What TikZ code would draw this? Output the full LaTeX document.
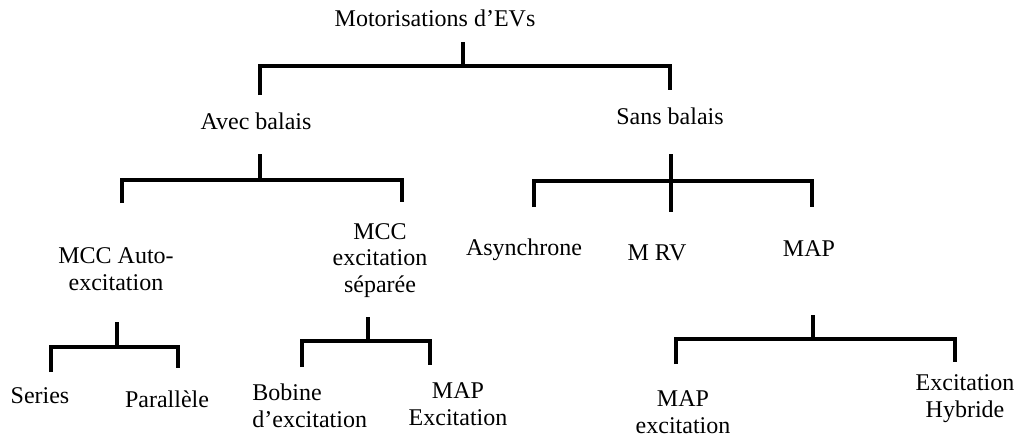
\documentclass[tikz,border=0pt]{standalone}
\usepackage{fontspec}
\setmainfont{Liberation Serif}
\usepackage{tikz}

\tikzset{
    lbl/.style={font=\fontsize{12}{13.2}\selectfont, inner sep=0pt, align=center, anchor=base},
    bar/.style={line width=1.7pt, black}
}

\begin{document}
\begin{tikzpicture}[x=0.5pt, y=-0.5pt]
    \useasboundingbox (0,0) rectangle (1018,439);
    % texts
    \node[lbl] (mot) at (435,26) {Motorisations d'EVs};
    \node[lbl] (avec) at (256,129) {Avec balais};
    \node[lbl] (sans) at (670,124) {Sans balais};
    \node[lbl] (auto) at (116,290) {MCC Auto-\\excitation};
    \node[lbl] (sep) at (380,292) {MCC\\excitation\\séparée};
    \node[lbl] (asyn) at (524,255) {Asynchrone};
    \node[lbl] (mrv) at (657,260) {M RV};
    \node[lbl] (map) at (809,256) {MAP};
    \node[lbl] (ser) at (40,403) {Series};
    \node[lbl] (par) at (167,407) {Parallèle};
    \node[lbl, anchor=base west, align=left] (bob) at (252,427) {Bobine\\d'excitation};
    \node[lbl] (mapex) at (458,425) {MAP\\Excitation};
    \node[lbl] (mapex2) at (683,433) {MAP\\excitation};
    \node[lbl] (hyb) at (965,417) {Excitation\\Hybride};
    % branches
    \coordinate (m0) at (463,42); \coordinate (m1) at (463,66);
    \coordinate (m2) at (260,95); \coordinate (m3) at (670,90);
    \draw[bar] (m0) -- (m1); \draw[bar] (m2) |- (m1) -| (m3);
    \coordinate (a0) at (260,154); \coordinate (a1) at (260,180);
    \coordinate (a2) at (122,203); \coordinate (a3) at (402,202);
    \draw[bar] (a0) -- (a1); \draw[bar] (a2) |- (a1) -| (a3);
    \coordinate (s0) at (671,154); \coordinate (s1) at (671,181);
    \coordinate (s2) at (534,207); \coordinate (s3) at (671,212); \coordinate (s4) at (812,207);
    \draw[bar] (s0) -- (s3); \draw[bar] (s2) |- (s1) -| (s4);
    \coordinate (c0) at (117,322); \coordinate (c1) at (117,347);
    \coordinate (c2) at (51,372); \coordinate (c3) at (178,368);
    \draw[bar] (c0) -- (c1); \draw[bar] (c2) |- (c1) -| (c3);
    \coordinate (e0) at (368,317); \coordinate (e1) at (368,341);
    \coordinate (e2) at (302,367); \coordinate (e3) at (430,365);
    \draw[bar] (e0) -- (e1); \draw[bar] (e2) |- (e1) -| (e3);
    \coordinate (p0) at (813,315); \coordinate (p1) at (813,339);
    \coordinate (p2) at (676,364); \coordinate (p3) at (955,362);
    \draw[bar] (p0) -- (p1); \draw[bar] (p2) |- (p1) -| (p3);
    % \draw[help lines] (0,0) grid (1018,439);
\end{tikzpicture}
\end{document}
